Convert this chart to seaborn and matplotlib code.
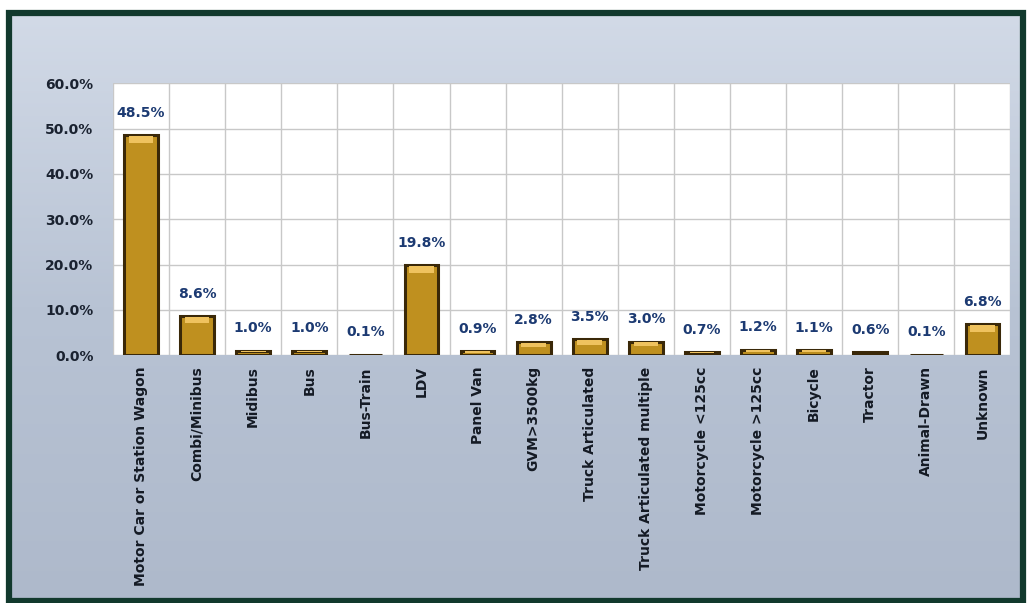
import numpy as np
import pandas as pd
import matplotlib
matplotlib.use("Agg")
import matplotlib.pyplot as plt
from matplotlib.patches import Rectangle
from matplotlib.colors import LinearSegmentedColormap
import seaborn as sns

categories = [
    "Motor Car or Station Wagon", "Combi/Minibus", "Midibus", "Bus", "Bus-Train",
    "LDV", "Panel Van", "GVM>3500kg", "Truck Articulated",
    "Truck Articulated multiple", "Motorcycle <125cc", "Motorcycle >125cc",
    "Bicycle", "Tractor", "Animal-Drawn", "Unknown",
]
shares = [48.5, 8.6, 1.0, 1.0, 0.1, 19.8, 0.9, 2.8, 3.5, 3.0, 0.7, 1.2, 1.1, 0.6, 0.1, 6.8]
y_ticks = [0, 10, 20, 30, 40, 50, 60]

df = pd.DataFrame({"category": categories, "share": shares})

sns.set_theme(style="white")
plt.rcParams["font.family"] = ["DejaVu Sans"]

fig = plt.figure(figsize=(10.31, 6.03), dpi=100, facecolor="white")

# bluish-gray panel with a soft vertical gradient, framed in dark green
bg = fig.add_axes([0.009, 0.004, 0.983, 0.975], zorder=-10)
grad = np.linspace(0, 1, 256).reshape(-1, 1)
cmap = LinearSegmentedColormap.from_list("panel", ["#aeb9cb", "#b8c3d4", "#d2dae7"])
bg.imshow(grad, aspect="auto", cmap=cmap, extent=[0, 1, 0, 1], origin="lower")
bg.set_axis_off()
fig.patches.append(Rectangle((0.009, 0.004), 0.983, 0.975, transform=fig.transFigure,
                             fill=False, edgecolor="#12392d", linewidth=4.5, zorder=5))

ax = fig.add_axes([0.1096, 0.411, 0.8705, 0.451])
ax.set_facecolor("white")
sns.barplot(data=df, x="category", y="share", ax=ax, color="#bf901f",
            width=0.6, edgecolor="#3a2808", linewidth=2.2, saturation=1)

# lighter cap on each bar top
for patch in ax.patches:
    h = patch.get_height()
    if h > 0.5:
        ax.add_patch(Rectangle((patch.get_x() + 0.08, h - min(1.6, h * 0.35)),
                               patch.get_width() - 0.16, min(1.4, h * 0.3),
                               facecolor="#efc25e", edgecolor="none", zorder=3))

ax.set_ylim(0, 60)
ax.set_xlim(-0.5, len(categories) - 0.5)
ax.set_yticks(y_ticks)
ax.set_yticklabels([f"{v:.1f}%" for v in y_ticks], fontsize=10, fontweight="bold",
                   color="#1a2230")
ax.set_xticks(range(len(categories)))
ax.set_xticklabels(categories, rotation=90, fontsize=10, fontweight="bold",
                   color="#141a24", va="top")
ax.set_xticks(np.arange(-0.5, len(categories), 1), minor=True)
ax.tick_params(axis="x", which="both", length=0, pad=8)
ax.tick_params(axis="y", length=0, pad=14)
ax.grid(True, axis="y", color="#c8c8c8", linewidth=1)
ax.grid(True, axis="x", which="minor", color="#c8c8c8", linewidth=1)
ax.grid(False, axis="x", which="major")
ax.set_axisbelow(True)
for s in ax.spines.values():
    s.set_visible(False)
ax.set_xlabel("")
ax.set_ylabel("")

for i, v in enumerate(shares):
    ax.annotate(f"{v:.1f}%", (i, v), xytext=(0, 11), textcoords="offset points",
                ha="center", va="bottom", fontsize=10, fontweight="bold",
                color="#1c3a72")

fig.savefig("out.png", dpi=100, facecolor="white")
